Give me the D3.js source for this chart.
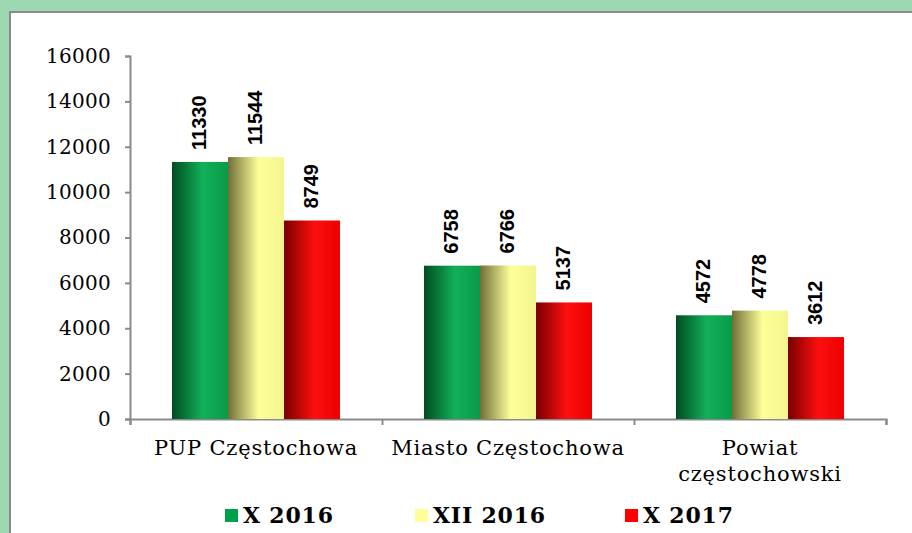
<!DOCTYPE html>
<html>
<head>
<meta charset="utf-8">
<script src="https://cdn.jsdelivr.net/npm/d3@7"></script>
<style>
  body { margin: 0; background: #9dd9b0; }
  svg { display: block; }
</style>
</head>
<body>
<div id="chart"></div>
<script>
const categories = [["PUP Częstochowa"], ["Miasto Częstochowa"], ["Powiat", "częstochowski"]];
const seriesNames = ["X 2016", "XII 2016", "X 2017"];
const x2016 = [11330, 6758, 4572];
const xii2016 = [11544, 6766, 4778];
const x2017 = [8749, 5137, 3612];
const yTicks = [0, 2000, 4000, 6000, 8000, 10000, 12000, 14000, 16000];

const width = 912, height = 533;
const svg = d3.select("#chart").append("svg").attr("width", width).attr("height", height);

// gradients for the cylinder-like bars
const grads = [
  ["g0", "#004d20", "#12b05a", "#0a9a48"],
  ["g1", "#6f6f38", "#ffff99", "#f5f590"],
  ["g2", "#7a0000", "#ff0f0f", "#ee0000"]
];
const defs = svg.append("defs");
grads.forEach(function(g) {
  var lg = defs.append("linearGradient").attr("id", g[0]).attr("x1", "0").attr("x2", "1").attr("y1", "0").attr("y2", "0");
  lg.append("stop").attr("offset", "0").attr("stop-color", g[1]);
  lg.append("stop").attr("offset", "0.55").attr("stop-color", g[2]);
  lg.append("stop").attr("offset", "1").attr("stop-color", g[3]);
});
const legendColors = ["#00a04a", "#ffff99", "#ff0000"];

// white panel
svg.append("rect").attr("x", 10).attr("y", 12).attr("width", 920).attr("height", 540)
  .attr("fill", "#fff").attr("stroke", "#8a8a8a").attr("stroke-width", 2);

const mLeft = 130, mRight = 886, mTop = 56, mBottom = 419;
const y = d3.scaleLinear().domain([0, 16000]).range([mBottom, mTop]);
const x0 = d3.scaleBand().domain(d3.range(categories.length)).range([mLeft, mRight]).paddingInner(1/3).paddingOuter(1/6);
const x1 = d3.scaleBand().domain(d3.range(seriesNames.length)).range([0, x0.bandwidth()]);

// y axis
const yAxis = svg.append("g").attr("transform", "translate(" + mLeft + ",0)")
  .call(d3.axisLeft(y).tickValues(yTicks).tickSize(5).tickPadding(14).tickFormat(d3.format("d")));
yAxis.select(".domain").attr("stroke", "#8a8a8a").attr("stroke-width", 2);
yAxis.selectAll(".tick line").attr("stroke", "#8a8a8a").attr("stroke-width", 2);
yAxis.selectAll("text").attr("font-family", "DejaVu Serif").attr("font-size", 20)
  .attr("letter-spacing", 0.3).attr("fill", "#000");

// x axis with ticks at category boundaries
const xb = d3.scaleLinear().domain([0, categories.length]).range([mLeft, mRight]);
const xAxis = svg.append("g").attr("transform", "translate(0," + mBottom + ")")
  .call(d3.axisBottom(xb).ticks(categories.length).tickSize(6).tickFormat(""));
xAxis.select(".domain").attr("stroke", "#8a8a8a").attr("stroke-width", 2);
xAxis.selectAll(".tick line").attr("stroke", "#8a8a8a").attr("stroke-width", 2);

const series = [x2016, xii2016, x2017];
const groups = svg.selectAll("g.cat").data(categories).enter().append("g").attr("class", "cat")
  .attr("transform", function(d, i) { return "translate(" + x0(i) + ",0)"; });

series.forEach(function(vals, s) {
  groups.append("rect")
    .attr("x", x1(s)).attr("width", x1.bandwidth())
    .attr("y", function(d, i) { return y(vals[i]); })
    .attr("height", function(d, i) { return mBottom - y(vals[i]); })
    .attr("fill", "url(#g" + s + ")");
  groups.append("text")
    .attr("transform", function(d, i) { return "translate(" + (x1(s) + x1.bandwidth() / 2 + 6) + "," + (y(vals[i]) - 12) + ") rotate(-90)"; })
    .attr("font-family", "Liberation Sans").attr("font-weight", "bold").attr("font-size", 20)
    .text(function(d, i) { return vals[i]; });
});

// category labels
groups.append("text")
  .attr("x", x0.bandwidth() / 2).attr("text-anchor", "middle")
  .attr("font-family", "DejaVu Serif").attr("font-size", 21).attr("letter-spacing", 0.8)
  .selectAll("tspan").data(function(d) { return d; }).enter().append("tspan")
  .attr("x", x0.bandwidth() / 2)
  .attr("y", function(d, i) { return 455 + i * 26; })
  .text(function(d) { return d; });

// legend
const legendX = [225, 415, 625];
const lg = svg.selectAll("g.leg").data(seriesNames).enter().append("g").attr("class", "leg")
  .attr("transform", function(d, i) { return "translate(" + legendX[i] + ",509)"; });
lg.append("rect").attr("width", 13).attr("height", 13).attr("fill", function(d, i) { return legendColors[i]; });
lg.append("text").attr("x", 18).attr("y", 14)
  .attr("font-family", "DejaVu Serif").attr("font-weight", "bold").attr("font-size", 22)
  .attr("letter-spacing", 0.8)
  .text(function(d) { return d; });
</script>
</body>
</html>
